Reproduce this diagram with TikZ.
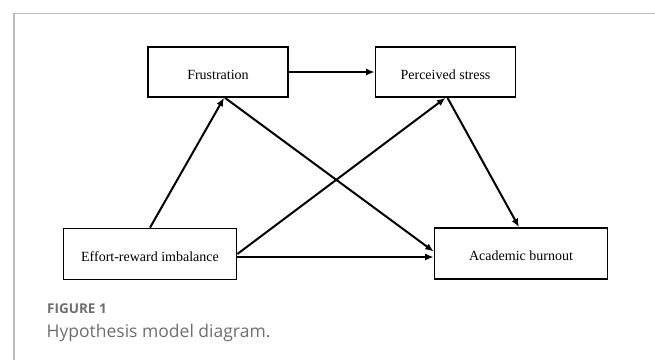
\documentclass[tikz,border=0pt]{standalone}
\usepackage{fontspec}
\setmainfont{Liberation Serif}
\newfontfamily\capfont{Open Sans}
\usetikzlibrary{arrows.meta}
\definecolor{framegray}{HTML}{BDBDBD}
\definecolor{capgray}{HTML}{6E6E6E}

\begin{document}
\begin{tikzpicture}[x=1pt,y=-1pt,
    every node/.style={inner sep=0},
    box/.style={draw,line width=1.7pt,text height=14pt,text depth=0pt,font=\fontsize{14}{16}\selectfont,minimum width=140pt,minimum height=50pt},
    widebox/.style={box,minimum width=173pt,minimum height=51pt},
    caption/.style={anchor=base west,text=capgray},
    path/.style={line width=2pt,-{Latex[length=8.5pt,width=7pt]}}]
        \useasboundingbox (0,0) rectangle (655,360);
        \draw[framegray,line width=1.3pt] (14,360) -- (14,13.5) -- (655,13.5);
        \node[box] (frus) at (218,72) {Frustration};
        \node[box] (stress) at (445.5,72) {Perceived stress};
        \node[widebox] (eri) at (150,254) {Effort-reward imbalance};
        \node[widebox] (burn) at (521,253.5) {Academic burnout};
        \draw[path] (frus.east) -- (stress.west);
        \draw[path] (eri.north) -- ([xshift=6pt]frus.south);
        \draw[path] ([xshift=7pt]frus.south) -- ([yshift=2pt]burn.west);
        \draw[path] (eri.east) -- (stress.south);
        \draw[path] ([xshift=2pt]stress.south) -- ([xshift=-2pt]burn.north);
        \draw[path] ([yshift=-3pt]eri.east) -- ([yshift=-3pt]eri.east -| burn.west);
        \node[caption,font=\capfont\bfseries\fontsize{13.5}{15}\selectfont] (fig) at (47,313.5) {FIGURE 1};
        \node[caption,font=\capfont\fontsize{17.5}{20}\selectfont] (cap) at (46.5,337) {Hypothesis model diagram.};
      \end{tikzpicture}
\end{document}
